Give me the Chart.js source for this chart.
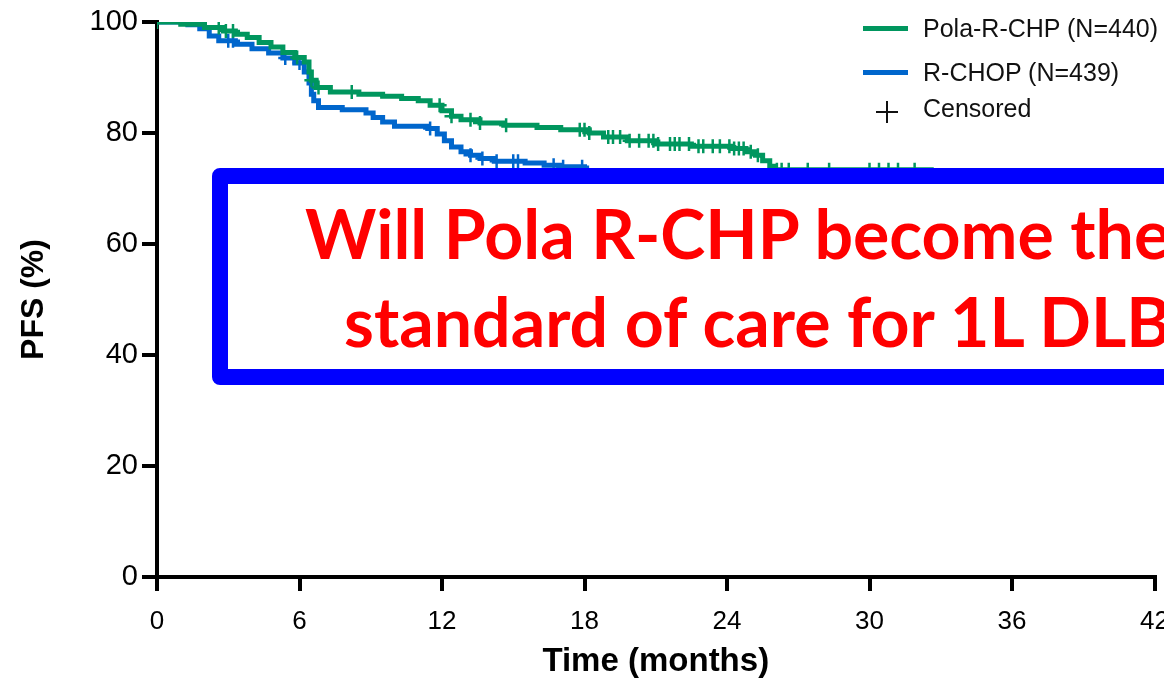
<!DOCTYPE html>
<html>
<head>
<meta charset="utf-8">
<script src="https://cdn.jsdelivr.net/npm/chart.js@4"></script>
<style>
  html, body { margin: 0; padding: 0; background: #fff; overflow: hidden; }
  #wrap { position: relative; width: 1164px; height: 682px; overflow: hidden; }
  #kmChart { position: absolute; left: 0; top: 0; }
  .leg { position: absolute; font-family: "Liberation Sans", Arial, sans-serif; font-size: 25px;
         color: #111; white-space: nowrap; line-height: 30px; }
  .legLine { position: absolute; height: 5px; width: 45px; }
  .plus { position: absolute; background: #111; }
  #box { position: absolute; left: 212px; top: 168px; width: 1100px; height: 185px;
         border: 16px solid #0000ff; border-radius: 8px; background: #fff; }
  .q { position: absolute; font-family: Lato, "Open Sans", sans-serif; font-weight: 700;
       font-size: 68px; line-height: 82px; color: #ff0000; white-space: nowrap; }
</style>
</head>
<body>
<div id="wrap">
  <canvas id="kmChart" width="1164" height="682"></canvas>

  <div class="legLine" style="left:863px; top:26px; background:#00965e;"></div>
  <div class="leg" style="left:923px; top:13px;">Pola-R-CHP (N=440)</div>
  <div class="legLine" style="left:863px; top:70px; background:#0066cc;"></div>
  <div class="leg" style="left:923px; top:57px;">R-CHOP (N=439)</div>
  <div class="plus" style="left:876px; top:111px; width:22px; height:2px;"></div>
  <div class="plus" style="left:886px; top:101px; width:2px; height:22px;"></div>
  <div class="leg" style="left:923px; top:93px;">Censored</div>

  <div id="box"></div>
  <div class="q" style="left:305px; top:192px;">Will Pola R-CHP become the</div>
  <div class="q" style="left:344px; top:280px;">standard of care for 1L DLBCL?</div>
</div>

<script>
const timeTicks = [0, 6, 12, 18, 24, 30, 36, 42];
const pfsTicks = [0, 20, 40, 60, 80, 100];

// Pola-R-CHP, step points (month, PFS %)
const polaTime = [0, 1.0, 2.0, 2.8, 3.3, 3.8, 4.3, 4.8, 5.3, 5.8, 6.2, 6.4, 6.5, 6.7, 7.3, 8.5, 9.5, 10.3,
  11.0, 11.5, 12.0, 12.4, 12.8, 13.6, 14.6, 16.0, 17.0, 18.2, 18.8, 19.8, 21.0, 22.5, 24.2, 24.8, 25.2,
  25.5, 25.8, 26.0, 32.6, 34.0];
const polaPFS = [100, 99.6, 99.0, 98.4, 97.8, 97.2, 96.3, 95.5, 94.5, 93.6, 92.8, 91.0, 89.5, 88.2, 87.4,
  87.0, 86.6, 86.2, 85.8, 85.0, 84.0, 83.0, 82.4, 81.8, 81.4, 81.0, 80.6, 80.0, 79.3, 78.6, 78.0, 77.6,
  77.2, 76.6, 76.0, 75.0, 74.0, 73.4, 72.0, 72.0];
const polaCensor = [0, 2.6, 2.9, 3.2, 5.9, 6.5, 6.8, 8.2, 11.9, 12.4, 13.2, 13.6, 14.7, 17.8, 18.0, 18.2,
  19.0, 19.2, 19.5, 19.9, 20.3, 20.7, 20.9, 21.1, 21.6, 21.8, 22.0, 22.4, 22.8, 23.0, 23.4, 23.7, 24.1,
  24.3, 24.5, 24.7, 25.0, 25.3, 26.1, 26.3, 26.6, 27.4, 28.3, 30.0, 30.4, 30.8, 31.2, 31.9];

// R-CHOP
const rchopTime = [0, 1.3, 1.8, 2.2, 2.6, 3.3, 4.0, 4.7, 5.3, 5.8, 6.2, 6.4, 6.5, 6.6, 6.8, 7.8, 8.8, 9.1,
  9.5, 10.0, 11.4, 11.8, 12.1, 12.4, 12.8, 13.2, 13.6, 14.2, 15.5, 16.3, 17.0, 18.0, 20.0, 26.0, 34.0];
const rchopPFS = [100, 99.5, 98.8, 97.5, 96.6, 96.0, 95.2, 94.4, 93.5, 92.6, 91.0, 89.0, 87.0, 85.8, 84.6,
  84.2, 83.6, 82.8, 82.0, 81.2, 80.8, 79.8, 78.6, 77.5, 76.6, 76.0, 75.4, 74.9, 74.6, 74.2, 73.9, 72.6,
  71.5, 70.2, 68.0];
const rchopCensor = [3.0, 3.2, 5.4, 6.0, 11.5, 13.2, 13.7, 14.3, 15.0, 15.2, 16.7, 17.1, 17.9];

function stepAt(times, vals, t) {
  let v = vals[0];
  for (let i = 0; i < times.length; i++) {
    if (times[i] <= t) v = vals[i];
  }
  return v;
}
function toPoints(times, vals) {
  return times.map((t, i) => ({ x: t, y: vals[i] }));
}
function censorPoints(cens, times, vals) {
  return cens.map((t) => ({ x: t, y: stepAt(times, vals, t) }));
}

const green = "#00965e";
const blue = "#0066cc";

const ctx = document.getElementById("kmChart");
const kmChart = new Chart(ctx, {
  type: "scatter",
  data: {
    datasets: [
      {
        label: "Pola-R-CHP (N=440)",
        data: toPoints(polaTime, polaPFS),
        showLine: true, stepped: true, borderColor: green, borderWidth: 5, pointRadius: 0,
      },
      {
        label: "Pola-R-CHP censored",
        data: censorPoints(polaCensor, polaTime, polaPFS),
        showLine: false, pointStyle: "cross", pointRadius: 7, borderColor: green, pointBorderWidth: 2.5,
      },
      {
        label: "R-CHOP (N=439)",
        data: toPoints(rchopTime, rchopPFS),
        showLine: true, stepped: true, borderColor: blue, borderWidth: 5, pointRadius: 0,
      },
      {
        label: "R-CHOP censored",
        data: censorPoints(rchopCensor, rchopTime, rchopPFS),
        showLine: false, pointStyle: "cross", pointRadius: 7, borderColor: blue, pointBorderWidth: 2.5,
      },
    ],
  },
  options: {
    responsive: false,
    devicePixelRatio: 1,
    animation: false,
    layout: { padding: { left: 0, right: 7, top: 22, bottom: 0 } },
    plugins: { legend: { display: false }, tooltip: { enabled: false } },
    scales: {
      x: {
        type: "linear", min: 0, max: 42,
        afterBuildTicks: (s) => { s.ticks = timeTicks.map((v) => ({ value: v })); },
        afterFit: (s) => { s.height = 105; s.paddingLeft = 0; s.paddingRight = 0; },
        ticks: { color: "#000", font: { family: "Liberation Sans", size: 26 }, padding: 15, maxRotation: 0 },
        grid: { drawOnChartArea: false, drawTicks: true, tickLength: 14, lineWidth: 4, color: "#000" },
        border: { display: true, width: 4, color: "#000" },
        title: { display: true, text: "Time (months)", color: "#000",
                 font: { family: "Liberation Sans", size: 33, weight: "bold" }, padding: { top: 0, bottom: 0 } },
      },
      y: {
        min: 0, max: 100,
        afterBuildTicks: (s) => { s.ticks = pfsTicks.map((v) => ({ value: v })); },
        afterFit: (s) => { s.width = 157; s.paddingTop = 0; s.paddingBottom = 0; },
        ticks: { color: "#000", font: { family: "Liberation Sans", size: 29 }, padding: 4 },
        grid: { drawOnChartArea: false, drawTicks: true, tickLength: 15, lineWidth: 4, color: "#000" },
        border: { display: true, width: 4, color: "#000" },
        title: { display: true, text: "PFS (%)", color: "#000",
                 font: { family: "Liberation Sans", size: 32, weight: "bold" }, padding: { top: 15, bottom: 0 } },
      },
    },
  },
});
</script>
</body>
</html>
